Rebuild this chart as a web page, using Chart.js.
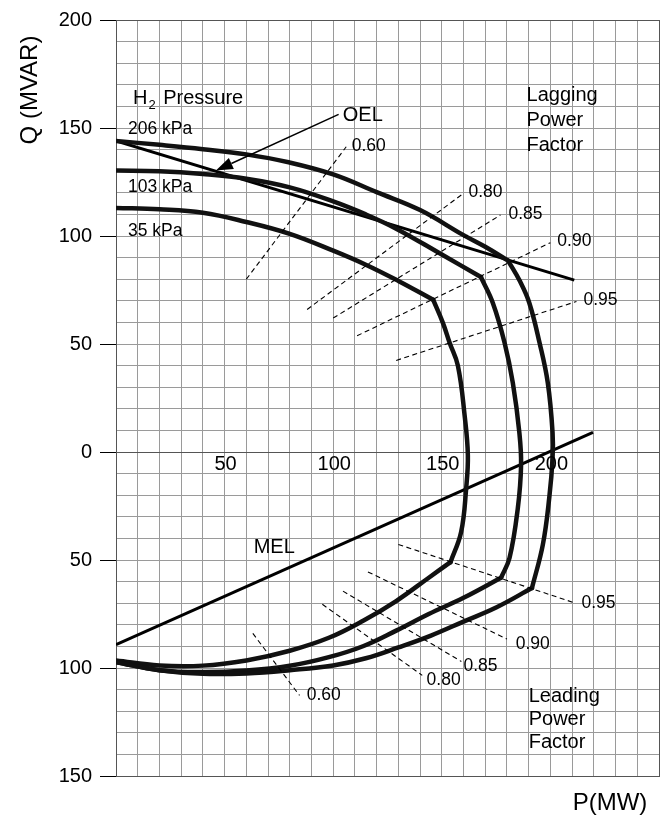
<!DOCTYPE html>
<html>
<head>
<meta charset="utf-8">
<title>Generator capability curve</title>
<script src="https://cdn.jsdelivr.net/npm/chart.js@4.4.1/dist/chart.umd.min.js"></script>
<style>
  html, body { margin: 0; padding: 0; background: #fff; }
  canvas { display: block; }
</style>
</head>
<body>
<canvas id="capChart" width="672" height="821"></canvas>
<script>
// capability curves, [P (MW), Q (MVAR)] — each split at its corners
const upper206 = [[0, 144], [20, 142.2], [40, 140.2], [60, 137.8], [80, 134], [100, 128.5], [120, 120.3], [140, 112], [160, 100.4], [170, 95], [180.5, 88.6]];
const side206 = [[180.5, 88.6], [186, 79], [190.3, 69], [195, 50.6], [198.8, 32], [201, 9], [201, -3], [199.5, -21], [196.5, -43], [191.5, -63]];
const lower206 = [[191.5, -63], [175, -72], [160, -78.5], [145, -85], [130, -90.5], [115, -95.5], [100, -98.8], [80, -101], [60, -102.5], [40, -102.7], [20, -101], [0, -97.3]];

const upper103 = [[0, 130.3], [20, 130], [40, 128.7], [60, 126.5], [80, 122.5], [100, 116], [115, 110], [129, 103.4], [149, 92], [168, 81]];
const side103 = [[168, 81], [173.5, 69], [178.9, 50.6], [182.7, 32], [185.7, 9], [186.5, -6], [185, -26], [181.2, -49], [177.3, -58.2]];
const lower103 = [[177.3, -58.2], [160, -67.5], [144, -75], [129, -82.7], [114, -89.8], [98, -95], [80, -99], [60, -101.2], [40, -101.9], [20, -101], [0, -97.3]];

const upper35 = [[0, 113], [20, 112.4], [40, 110.8], [60, 106.5], [80, 101], [100, 93.2], [115, 86.7], [130, 79.2], [146, 70.5]];
const side35 = [[146, 70.5], [150.5, 59.8], [153.6, 50.6], [157.4, 40], [160.5, 17], [162, -1.5], [161.2, -17], [158.9, -37], [154, -51]];
const lower35 = [[154, -51], [144, -58.2], [129, -69], [114, -78], [98, -86], [80, -92], [60, -96.5], [40, -98.9], [20, -98.8], [0, -96.5]];

// excitation limit lines
const oelLine = [[0, 144], [211, 79.6]];
const melLine = [[0, -89.2], [219.6, 9.1]];

// constant power factor segments
const lagPfLines = [
  [[60, 80], [106, 141.3]],
  [[88, 66], [159, 119]],
  [[100, 62], [177, 109.7]],
  [[111, 53.8], [200, 96.9]],
  [[129, 42.4], [212, 69.7]]
];
const leadPfLines = [
  [[63, -84], [84.5, -112.7]],
  [[95, -70.5], [141, -103.4]],
  [[104.5, -64.4], [159, -97]],
  [[116, -55.5], [180, -86.6]],
  [[130, -42.8], [211, -69.8]]
];

const xTickLabels = [50, 100, 150, 200];

// text notes: [text, P, Q, font size]
const notes = [
  ['206 kPa', 5.5, 147, 17.5],
  ['103 kPa', 5.5, 120.5, 17.5],
  ['35 kPa', 5.5, 100.2, 17.5],
  ['OEL', 104.4, 153.1, 20],
  ['0.60', 108.5, 139.3, 17.5],
  ['0.80', 162.3, 118.2, 17.5],
  ['0.85', 180.7, 108, 17.5],
  ['0.90', 203.2, 95.2, 17.5],
  ['0.95', 215.2, 68, 17.5],
  ['Lagging', 189, 162.5, 20],
  ['Power', 189, 150.8, 20],
  ['Factor', 189, 139.5, 20],
  ['MEL', 63.4, -46.9, 20],
  ['0.95', 214.3, -72.2, 17.5],
  ['0.90', 184, -91, 17.5],
  ['0.85', 160, -101.6, 17.5],
  ['0.80', 143, -108, 17.5],
  ['0.60', 87.8, -115, 17.5],
  ['Leading', 190, -115.6, 20],
  ['Power', 190, -126.5, 20],
  ['Factor', 190, -137.2, 20]
];

const arrowFrom = [102.5, 156.3];
const arrowTo = [46, 130.3];

const FONT = "'Liberation Sans', Arial, sans-serif";

const toPts = arr => arr.map(p => ({ x: p[0], y: p[1] }));

const curveSet = (arr) => ({
  data: toPts(arr),
  showLine: true,
  borderColor: '#111',
  borderWidth: 4.5,
  pointRadius: 0,
  tension: 0.4,
  borderCapStyle: 'round',
  borderJoinStyle: 'round'
});

const straightSet = (arr, width) => ({
  data: toPts(arr),
  showLine: true,
  borderColor: '#000',
  borderWidth: width,
  pointRadius: 0,
  tension: 0
});

const dashedSet = (arr) => ({
  data: toPts(arr),
  showLine: true,
  borderColor: '#000',
  borderWidth: 1.1,
  borderDash: [5, 3.5],
  pointRadius: 0,
  tension: 0
});

const datasets = [
  ...lagPfLines.map(dashedSet),
  ...leadPfLines.map(dashedSet),
  curveSet(upper206), curveSet(side206), curveSet(lower206),
  curveSet(upper103), curveSet(side103), curveSet(lower103),
  curveSet(upper35), curveSet(side35), curveSet(lower35),
  straightSet(oelLine, 3),
  straightSet(melLine, 3)
];

const notesPlugin = {
  id: 'notes',
  afterDatasetsDraw(chart) {
    const { ctx, scales: { x, y } } = chart;
    ctx.save();
    ctx.fillStyle = '#000';
    ctx.textAlign = 'left';
    ctx.textBaseline = 'alphabetic';

    notes.forEach(([text, p, q, size]) => {
      ctx.font = size + 'px ' + FONT;
      ctx.fillText(text, x.getPixelForValue(p), y.getPixelForValue(q));
    });

    // H2 Pressure heading with subscript
    const hx = x.getPixelForValue(7.8);
    const hy = y.getPixelForValue(160.9);
    ctx.font = '20px ' + FONT;
    ctx.fillText('H', hx, hy);
    const hw = ctx.measureText('H').width;
    ctx.font = '13px ' + FONT;
    ctx.fillText('2', hx + hw + 1, hy + 5);
    const sw = ctx.measureText('2').width;
    ctx.font = '20px ' + FONT;
    ctx.fillText(' Pressure', hx + hw + sw + 3, hy);

    // P tick labels sit just under the Q = 0 line
    ctx.textAlign = 'center';
    ctx.font = '20px ' + FONT;
    xTickLabels.forEach(v => {
      ctx.fillText(String(v), x.getPixelForValue(v) + 1, y.getPixelForValue(0) + 18);
    });

    // arrow pointing at the OEL line
    const x1 = x.getPixelForValue(arrowFrom[0]), y1 = y.getPixelForValue(arrowFrom[1]);
    const x2 = x.getPixelForValue(arrowTo[0]), y2 = y.getPixelForValue(arrowTo[1]);
    const ang = Math.atan2(y2 - y1, x2 - x1);
    const headLen = 17, headHalf = 6;
    ctx.strokeStyle = '#000';
    ctx.lineWidth = 1.5;
    ctx.beginPath();
    ctx.moveTo(x1, y1);
    ctx.lineTo(x2 - headLen * Math.cos(ang), y2 - headLen * Math.sin(ang));
    ctx.stroke();
    ctx.beginPath();
    ctx.moveTo(x2, y2);
    ctx.lineTo(x2 - headLen * Math.cos(ang) + headHalf * Math.sin(ang), y2 - headLen * Math.sin(ang) - headHalf * Math.cos(ang));
    ctx.lineTo(x2 - headLen * Math.cos(ang) - headHalf * Math.sin(ang), y2 - headLen * Math.sin(ang) + headHalf * Math.cos(ang));
    ctx.closePath();
    ctx.fill();

    // axis titles
    ctx.font = '24px ' + FONT;
    ctx.textAlign = 'center';
    ctx.textBaseline = 'middle';
    ctx.fillText('P(MW)', 610, 803);
    ctx.translate(30, 90);
    ctx.rotate(-Math.PI / 2);
    ctx.fillText('Q (MVAR)', 0, 0);
    ctx.restore();
  }
};

const gridColor = (ctx, edges) => {
  const v = ctx.tick ? ctx.tick.value : null;
  if (v === 0 || edges.includes(v)) return '#555';
  return '#9a9a9a';
};

new Chart(document.getElementById('capChart').getContext('2d'), {
  type: 'scatter',
  data: { datasets: datasets },
  options: {
    responsive: false,
    animation: false,
    events: [],
    layout: { padding: { top: 15, right: 13, left: 0, bottom: 0 } },
    plugins: {
      legend: { display: false },
      tooltip: { enabled: false }
    },
    scales: {
      x: {
        type: 'linear',
        min: 0,
        max: 250,
        ticks: { stepSize: 10, display: false, autoSkip: false },
        grid: { color: ctx => gridColor(ctx, [250]), drawTicks: false, lineWidth: 1 },
        border: { color: '#555', width: 1 },
        afterFit: scale => { scale.height = 45; }
      },
      y: {
        type: 'linear',
        min: -150,
        max: 200,
        ticks: {
          stepSize: 10,
          autoSkip: false,
          padding: 8,
          color: '#000',
          font: { size: 20, family: FONT },
          callback: v => (v % 50 === 0 ? String(Math.abs(v)) : '')
        },
        grid: {
          color: ctx => gridColor(ctx, [200, -150]),
          tickColor: ctx => (ctx.tick && ctx.tick.value % 50 === 0 ? '#000' : 'rgba(0,0,0,0)'),
          tickLength: 16,
          lineWidth: 1
        },
        border: { color: '#555', width: 1 },
        afterFit: scale => { scale.width = 116; }
      }
    }
  },
  plugins: [notesPlugin]
});
</script>
</body>
</html>
